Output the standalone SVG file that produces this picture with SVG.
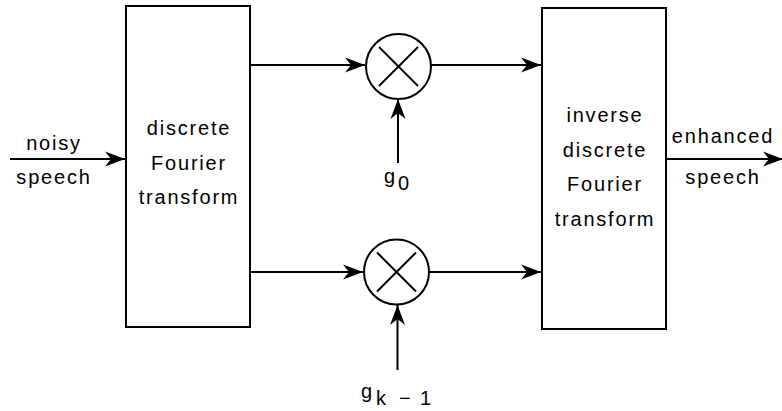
<svg xmlns="http://www.w3.org/2000/svg" width="782" height="411" viewBox="0 0 782 411">
<defs>
<style>
.box{fill:#fff;stroke:#000;stroke-width:2}
.ln{fill:none;stroke:#000;stroke-width:2}
.t{font-family:"Liberation Sans",Arial,sans-serif;font-size:20px;letter-spacing:1.8px;fill:#000;text-anchor:middle}
.s{font-family:"Liberation Sans",Arial,sans-serif;font-size:20px;fill:#000}
</style>
<marker id="ah" markerUnits="userSpaceOnUse" markerWidth="22" markerHeight="18" viewBox="-21 -9 22 18" refX="0" refY="0" orient="auto">
<path d="M0,0 L-20,-7.5 L-14,0 L-20,7.5 Z" fill="#000"/>
</marker>
</defs>
<rect width="782" height="411" fill="#fff"/>
<g id="connectors">
<line class="ln" x1="10" y1="159" x2="125" y2="159" marker-end="url(#ah)"/>
<line class="ln" x1="251" y1="65" x2="365" y2="65" marker-end="url(#ah)"/>
<line class="ln" x1="251" y1="272" x2="363" y2="272" marker-end="url(#ah)"/>
<line class="ln" x1="398" y1="163" x2="398" y2="99" marker-end="url(#ah)"/>
<line class="ln" x1="397.5" y1="370" x2="397.5" y2="305" marker-end="url(#ah)"/>
<line class="ln" x1="431" y1="65" x2="541" y2="65" marker-end="url(#ah)"/>
<line class="ln" x1="429" y1="272" x2="541" y2="272" marker-end="url(#ah)"/>
<line class="ln" x1="667" y1="159" x2="783" y2="159" marker-end="url(#ah)"/>
</g>
<g id="input-label">
<text class="t" x="54" y="150">noisy</text>
<text class="t" x="54" y="184">speech</text>
</g>
<g id="dft">
<rect class="box" x="126" y="6" width="124" height="321"/>
<text class="t" x="189" y="135">discrete</text>
<text class="t" x="189" y="169.5">Fourier</text>
<text class="t" x="189" y="204">transform</text>
</g>
<g id="mult0">
<circle class="ln" cx="398.5" cy="66.5" r="32.5"/>
<line class="ln" x1="379" y1="47" x2="418" y2="86"/>
<line class="ln" x1="418" y1="47" x2="379" y2="86"/>
</g>
<g id="mult1">
<circle class="ln" cx="396.5" cy="272" r="32.5"/>
<line class="ln" x1="377" y1="252.5" x2="416" y2="291.5"/>
<line class="ln" x1="416" y1="252.5" x2="377" y2="291.5"/>
</g>
<g id="g0-label">
<text class="s" x="384" y="183">g</text>
<text class="s" x="398" y="190">0</text>
</g>
<g id="gk-label">
<text class="s" x="361" y="398">g</text>
<text class="s" x="376" y="405">k</text>
<text class="s" x="399" y="405">−</text>
<text class="s" x="420" y="405">1</text>
</g>
<g id="idft">
<rect class="box" x="542" y="8" width="124" height="321"/>
<text class="t" x="605" y="121.5">inverse</text>
<text class="t" x="605" y="156.5">discrete</text>
<text class="t" x="605" y="191">Fourier</text>
<text class="t" x="605" y="226">transform</text>
</g>
<g id="output-label">
<text class="t" x="723" y="143">enhanced</text>
<text class="t" x="723" y="184">speech</text>
</g>
</svg>
